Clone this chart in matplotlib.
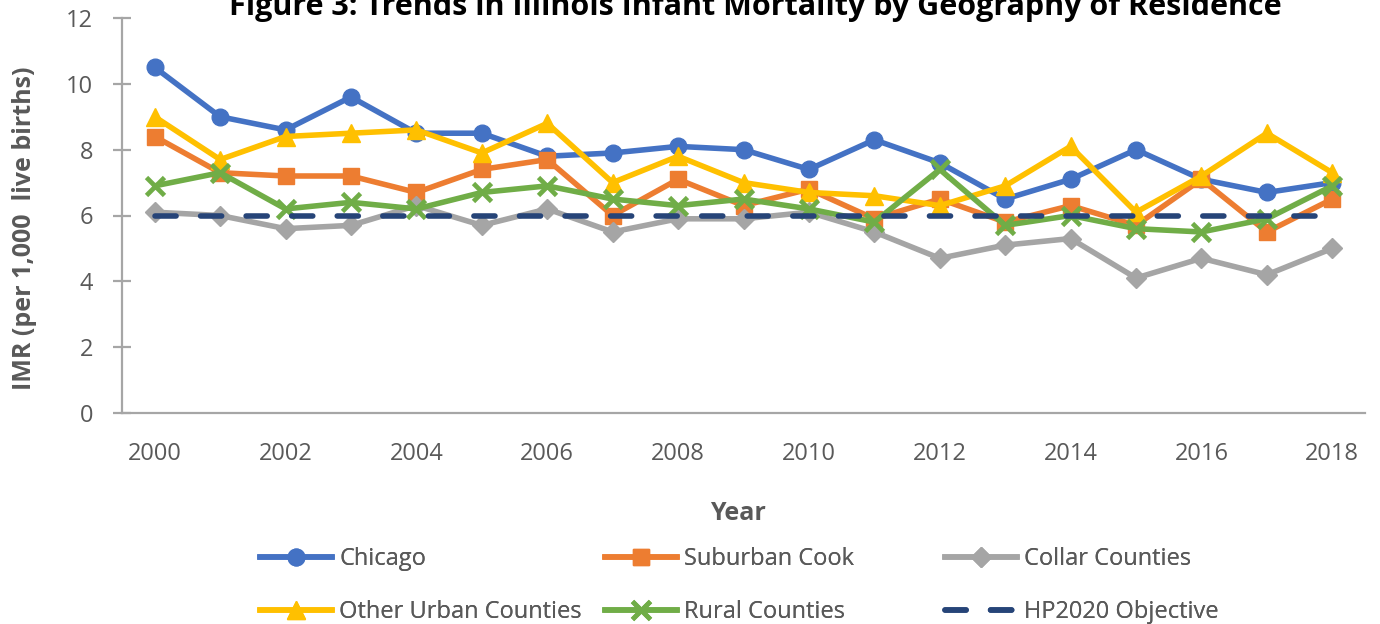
import matplotlib
matplotlib.use("Agg")
import matplotlib.pyplot as plt

# -------------------------------
# Data (IMR per 1,000 live births)
# -------------------------------
years = list(range(2000, 2019))
chicago = [10.5, 9.0, 8.6, 9.6, 8.5, 8.5, 7.8, 7.9, 8.1, 8.0, 7.4, 8.3, 7.6, 6.5, 7.1, 8.0, 7.1, 6.7, 7.0]
suburban_cook = [8.4, 7.3, 7.2, 7.2, 6.7, 7.4, 7.7, 6.0, 7.1, 6.3, 6.8, 5.9, 6.5, 5.8, 6.3, 5.7, 7.1, 5.5, 6.5]
collar = [6.1, 6.0, 5.6, 5.7, 6.3, 5.7, 6.2, 5.5, 5.9, 5.9, 6.1, 5.5, 4.7, 5.1, 5.3, 4.1, 4.7, 4.2, 5.0]
other_urban = [9.0, 7.7, 8.4, 8.5, 8.6, 7.9, 8.8, 7.0, 7.8, 7.0, 6.7, 6.6, 6.3, 6.9, 8.1, 6.1, 7.2, 8.5, 7.3]
rural = [6.9, 7.3, 6.2, 6.4, 6.2, 6.7, 6.9, 6.5, 6.3, 6.5, 6.2, 5.8, 7.4, 5.7, 6.0, 5.6, 5.5, 5.9, 6.9]
hp2020 = [6.0] * len(years)
xtick_years = list(range(2000, 2019, 2))

FONT = "Open Sans"
GREY_TXT = "#595959"
plt.rcParams["font.family"] = [FONT, "DejaVu Sans"]

fig = plt.figure(figsize=(13.8, 6.24), dpi=100)
ax = fig.add_axes([122 / 1380, 1 - 413 / 624, (1365 - 122) / 1380, (413 - 18) / 624])

lw = 4.0
ms = 12
h_chi, = ax.plot(years, chicago, color="#4472C4", lw=lw, marker="o", ms=ms, label="Chicago")
h_sub, = ax.plot(years, suburban_cook, color="#ED7D31", lw=lw, marker="s", ms=ms - 1, label="Suburban Cook")
h_col, = ax.plot(years, collar, color="#A5A5A5", lw=lw, marker="D", ms=ms - 2, label="Collar Counties")
h_oth, = ax.plot(years, other_urban, color="#FFC000", lw=lw, marker="^", ms=ms + 1, label="Other Urban Counties")
h_rur, = ax.plot(years, rural, color="#70AD47", lw=lw, marker="x", ms=ms + 1, mew=3.4, label="Rural Counties")
h_hp, = ax.plot(years, hp2020, color="#264478", lw=lw, dashes=(3.8, 4.4),
                dash_capstyle="round", label="HP2020 Objective")

ax.set_xlim(1999.5, 2018.5)
ax.set_ylim(0, 12)
ax.set_xticks(xtick_years)
ax.set_yticks(range(0, 13, 2))

for s in ["top", "right"]:
    ax.spines[s].set_visible(False)
ax.spines["left"].set_color("#A6A6A6")
ax.spines["bottom"].set_color("#A6A6A6")
ax.spines["left"].set_linewidth(1.6)
ax.spines["bottom"].set_linewidth(1.6)

ax.tick_params(axis="y", direction="inout", length=13.5, width=1.6, color="#A6A6A6",
               labelsize=17, labelcolor=GREY_TXT, pad=14)
ax.tick_params(axis="x", length=0, labelsize=17, labelcolor=GREY_TXT, pad=21)

# Titles / axis labels
fig.text(755 / 1380, 1 - 15 / 624, "Figure 3: Trends in Illinois Infant Mortality by Geography of Residence",
         ha="center", va="baseline", fontsize=22, fontweight="bold", color="black")
fig.text(25 / 1380, 1 - 228 / 624, "IMR (per 1,000  live births)", rotation=90,
         ha="center", va="center", fontsize=18, fontweight="bold", color=GREY_TXT)
fig.text(738 / 1380, 1 - 513 / 624, "Year", ha="center", va="center",
         fontsize=18, fontweight="bold", color=GREY_TXT)

# Legend: three columns of two entries
cols = [([h_chi, h_oth], 260), ([h_sub, h_rur], 605), ([h_col, h_hp], 945)]
for handles, xpix in cols:
    leg = fig.legend(handles=handles, loc="upper left",
                     bbox_to_anchor=(xpix / 1380, 1 - 547 / 624),
                     frameon=False, fontsize=17, handlelength=3.05, handletextpad=0.3,
                     labelspacing=1.22, borderpad=0, borderaxespad=0, labelcolor=GREY_TXT)
    fig.add_artist(leg)

fig.savefig("out.png", dpi=100)
